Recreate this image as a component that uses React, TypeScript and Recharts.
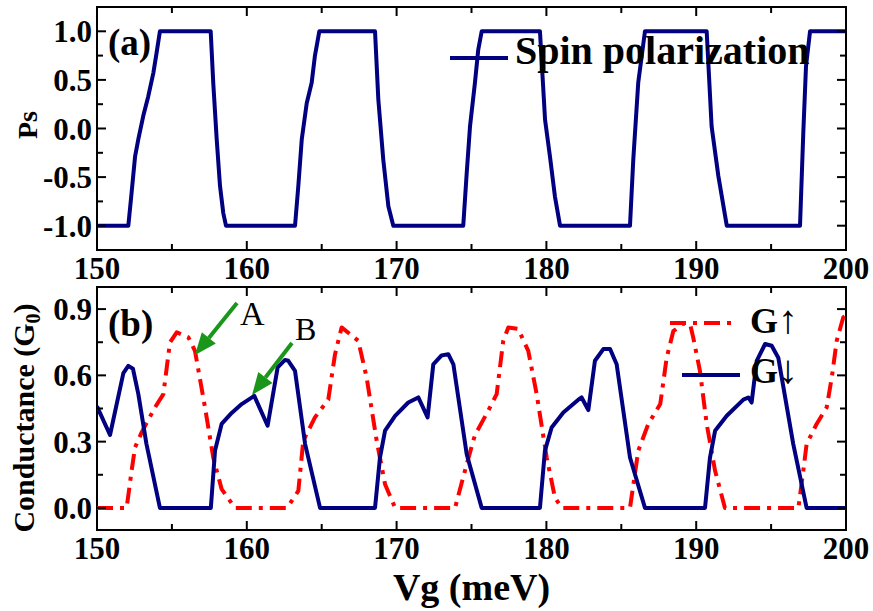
import React from "react";
import { LineChart, Line, XAxis, YAxis, ReferenceArea } from "recharts";

const FONT = "'Liberation Serif', 'Times New Roman', serif";
const NAVY = "#000080";
const RED = "#ff0000";
const GREEN = "#1a961a";

// (a) spin polarization vs gate voltage
const PS_VG = [
  150, 152.09, 152.31, 152.54, 152.76, 153.09, 153.42, 153.76, 153.98, 154.2,
  157.59, 157.76, 157.99, 158.21, 158.43, 158.61,
  163.22, 163.44, 163.67, 164.0, 164.33, 164.55, 164.84,
  168.56, 168.78, 169.11, 169.45, 169.78,
  174.45, 174.68, 174.9, 175.23, 175.45, 175.68,
  179.57, 179.91, 180.24, 180.57, 180.91,
  185.58, 185.8, 186.13, 186.58,
  190.7, 191.03, 191.48, 192.04,
  196.93, 197.15, 197.33, 197.6, 200,
];
const PS = [
  -1, -1, -0.66, -0.29, -0.11, 0.13, 0.33, 0.57, 0.78, 1,
  1, 0.47, -0.11, -0.59, -0.87, -1,
  -1, -0.59, -0.11, 0.26, 0.47, 0.75, 1,
  1, 0.3, -0.32, -0.8, -1,
  -1, -0.46, 0.02, 0.47, 0.81, 1,
  1, 0.09, -0.29, -0.7, -1,
  -1, -0.32, 0.47, 1,
  1, 0.02, -0.49, -1,
  -1, -0.04, 0.64, 1, 1,
];

// (b) spin-up conductance
const GUP_VG = [
  150, 151.98, 152.31, 152.54, 152.98, 153.87, 154.43, 154.87, 155.32, 156.1,
  156.54, 157.21, 157.76, 158.32, 159.21,
  162.69, 163.44, 163.77, 164.55, 165.44, 165.89, 166.33, 167.44, 168.0, 168.67,
  169.23, 169.9,
  173.9, 174.68, 175.23, 176.12, 176.68, 177.12, 177.46, 178.12, 178.79, 179.35,
  180.02, 180.57, 181.02,
  185.58, 186.13, 186.8, 187.6, 188.03, 188.47, 189.14, 189.6, 189.8, 190.25,
  190.7, 191.26, 191.92,
  196.82, 197.15, 197.37, 198.04, 198.71, 199.05, 199.38, 199.82, 200,
];
const GUP = [
  0, 0, 0.168, 0.274, 0.342, 0.455, 0.515, 0.749, 0.795, 0.772,
  0.711, 0.455, 0.228, 0.085, 0,
  0, 0.077, 0.304, 0.41, 0.49, 0.696, 0.817, 0.757, 0.59, 0.304,
  0.107, 0,
  0, 0.198, 0.33, 0.44, 0.515, 0.757, 0.817, 0.81, 0.711, 0.515,
  0.228, 0.047, 0,
  0, 0.258, 0.38, 0.47, 0.68, 0.8, 0.835, 0.83, 0.772, 0.62,
  0.38, 0.168, 0,
  0, 0.168, 0.289, 0.38, 0.455, 0.59, 0.757, 0.863, 0.87,
];

// (b) spin-down conductance
const GDN_VG = [
  150, 150.87, 151.76, 152.09, 152.4, 152.76, 153.3, 154.2,
  157.6, 157.88, 158.32, 158.99, 159.66, 160.5, 161.39, 162.06, 162.55, 162.77,
  163.22, 163.89, 164.89,
  168.56, 168.89, 169.23, 169.9, 170.78, 171.45, 172.07, 172.45, 173.0, 173.45,
  173.79, 174.68, 175.68,
  179.57, 179.9, 180.35, 181.13, 182.13, 182.35, 182.8, 183.24, 183.8, 184.25,
  184.69, 185.58, 186.58,
  190.59, 190.92, 191.26, 192.04, 193.15, 193.48, 193.7, 194.04, 194.6, 195.04,
  195.48, 196.48, 197.37, 200,
];
const GDN = [
  0.46, 0.33, 0.61, 0.643, 0.63, 0.515, 0.29, 0,
  0, 0.26, 0.38, 0.43, 0.47, 0.507, 0.372, 0.636, 0.67, 0.666,
  0.62, 0.29, 0,
  0, 0.228, 0.35, 0.417, 0.477, 0.5, 0.41, 0.65, 0.69, 0.696,
  0.65, 0.243, 0,
  0, 0.258, 0.364, 0.432, 0.49, 0.5, 0.443, 0.666, 0.719, 0.719,
  0.65, 0.228, 0,
  0, 0.228, 0.349, 0.417, 0.49, 0.5, 0.477, 0.666, 0.742, 0.734,
  0.68, 0.289, 0, 0,
];

const X_TICKS = [150, 155, 160, 165, 170, 175, 180, 185, 190, 195, 200];
const X_LABELS = [150, 160, 170, 180, 190, 200];
const PS_TICKS = [-1, -0.75, -0.5, -0.25, 0, 0.25, 0.5, 0.75, 1];
const PS_LABELS = [-1, -0.5, 0, 0.5, 1];
const G_TICKS = [0, 0.15, 0.3, 0.45, 0.6, 0.75, 0.9];
const G_LABELS = [0, 0.3, 0.6, 0.9];

const psData = PS_VG.map((vg, i) => ({ vg, ps: PS[i] }));
const upData = GUP_VG.map((vg, i) => ({ vg, g: GUP[i] }));
const dnData = GDN_VG.map((vg, i) => ({ vg, g: GDN[i] }));

const PLOT_W = 749;
const PLOT_H = 243;

const XTick = (props: any) => {
  const { x, y, payload } = props;
  const v = payload.value;
  const major = X_LABELS.includes(v);
  const len = major ? 9 : 6;
  return (
    <g>
      <line x1={x} y1={y} x2={x} y2={y - len} stroke="#000" strokeWidth={2} />
      <line x1={x} y1={y - PLOT_H} x2={x} y2={y - PLOT_H + len} stroke="#000" strokeWidth={2} />
      {major && (
        <text x={x} y={y + 29} textAnchor="middle" fontFamily={FONT} fontWeight="bold" fontSize={31} fill="#000">
          {v}
        </text>
      )}
    </g>
  );
};

const makeYTick = (labels: number[]) => (props: any) => {
  const { x, y, payload } = props;
  const v = payload.value;
  const major = labels.includes(v);
  const len = major ? 9 : 6;
  return (
    <g>
      <line x1={x} y1={y} x2={x + len} y2={y} stroke="#000" strokeWidth={2} />
      <line x1={x + PLOT_W} y1={y} x2={x + PLOT_W - len} y2={y} stroke="#000" strokeWidth={2} />
      {major && (
        <text x={x - 5} y={y + 11} textAnchor="end" fontFamily={FONT} fontWeight="bold" fontSize={31} fill="#000">
          {v.toFixed(1)}
        </text>
      )}
    </g>
  );
};

const PsTick = makeYTick(PS_LABELS);
const GTick = makeYTick(G_LABELS);

const Arrow = ({ x1, y1, x2, y2 }: { x1: number; y1: number; x2: number; y2: number }) => {
  const dx = x2 - x1;
  const dy = y2 - y1;
  const L = Math.hypot(dx, dy);
  const ux = dx / L;
  const uy = dy / L;
  const hl = 22;
  const hw = 9;
  const bx = x2 - ux * hl;
  const by = y2 - uy * hl;
  const pts = `${x2},${y2} ${bx - uy * hw},${by + ux * hw} ${bx + uy * hw},${by - ux * hw}`;
  return (
    <g>
      <line x1={x1} y1={y1} x2={bx} y2={by} stroke={GREEN} strokeWidth={4} />
      <polygon points={pts} fill={GREEN} />
    </g>
  );
};

export default function App() {
  return (
    <div style={{ position: "absolute", left: 0, top: 0, width: 873, height: 611, background: "#fff", overflow: "hidden" }}>
      {/* (a) */}
      <div style={{ position: "absolute", left: 0, top: 0 }}>
        <LineChart width={873} height={292} margin={{ top: 7, right: 27, left: 0, bottom: 0 }}>
          <XAxis
            dataKey="vg"
            type="number"
            domain={[150, 200]}
            ticks={X_TICKS}
            interval={0}
            allowDataOverflow
            height={42}
            tickSize={0}
            tickMargin={0}
            tickLine={false}
            axisLine={false}
            tick={<XTick />}
          />
          <YAxis
            type="number"
            domain={[-1.25, 1.25]}
            ticks={PS_TICKS}
            interval={0}
            allowDataOverflow
            width={97}
            tickSize={0}
            tickMargin={0}
            tickLine={false}
            axisLine={false}
            tick={<PsTick />}
          />
          <ReferenceArea x1={150} x2={200} y1={-1.25} y2={1.25} fill="none" stroke="#000" strokeWidth={2} />
          <Line
            data={psData}
            dataKey="ps"
            type="linear"
            stroke={NAVY}
            strokeWidth={4}
            strokeLinejoin="round"
            dot={false}
            isAnimationActive={false}
          />
        </LineChart>
      </div>

      {/* (b) */}
      <div style={{ position: "absolute", left: 0, top: 280 }}>
        <LineChart width={873} height={331} margin={{ top: 7, right: 27, left: 0, bottom: 0 }}>
          <XAxis
            dataKey="vg"
            type="number"
            domain={[150, 200]}
            ticks={X_TICKS}
            interval={0}
            allowDataOverflow
            height={81}
            tickSize={0}
            tickMargin={0}
            tickLine={false}
            axisLine={false}
            tick={<XTick />}
          />
          <YAxis
            type="number"
            domain={[-0.1, 1.0]}
            ticks={G_TICKS}
            interval={0}
            allowDataOverflow
            width={97}
            tickSize={0}
            tickMargin={0}
            tickLine={false}
            axisLine={false}
            tick={<GTick />}
          />
          <ReferenceArea x1={150} x2={200} y1={-0.1} y2={1.0} fill="none" stroke="#000" strokeWidth={2} />
          <Line
            data={upData}
            dataKey="g"
            type="linear"
            stroke={RED}
            strokeWidth={4}
            strokeDasharray="16 7 4 7"
            strokeLinejoin="round"
            dot={false}
            isAnimationActive={false}
          />
          <Line
            data={dnData}
            dataKey="g"
            type="linear"
            stroke={NAVY}
            strokeWidth={4}
            strokeLinejoin="round"
            dot={false}
            isAnimationActive={false}
          />
        </LineChart>
      </div>

      {/* labels, legends, annotations */}
      <svg width={873} height={611} style={{ position: "absolute", left: 0, top: 0, pointerEvents: "none" }}>
        <g fontFamily={FONT} fill="#000">
          <text x={108} y={55} fontSize={37} fontWeight="bold">(a)</text>
          <text x={108} y={336} fontSize={37} fontWeight="bold">(b)</text>

          <text transform="translate(37,125) rotate(-90)" textAnchor="middle" fontSize={28} fontWeight="bold">Ps</text>
          <text transform="translate(34,418) rotate(-90)" textAnchor="middle" fontSize={30} fontWeight="bold">
            Conductance (G<tspan fontSize={20} dy={6}>0</tspan><tspan dy={-6}>)</tspan>
          </text>
          <text x={471.5} y={600} textAnchor="middle" fontSize={38} fontWeight="bold">Vg (meV)</text>

          {/* legend (a) */}
          <line x1={450} y1={58} x2={508} y2={58} stroke={NAVY} strokeWidth={4} />
          <text x={515} y={64} fontSize={40} fontWeight="bold">Spin polarization</text>

          {/* legend (b) */}
          <line x1={670} y1={323} x2={735} y2={323} stroke={RED} strokeWidth={4} strokeDasharray="16 7 4 7" />
          <text x={750} y={333} fontSize={36} fontWeight="bold">
            G<tspan fontWeight="normal" fontSize={40}>↑</tspan>
          </text>
          <line x1={682} y1={375} x2={740} y2={375} stroke={NAVY} strokeWidth={4} />
          <text x={750} y={383} fontSize={36} fontWeight="bold">
            G<tspan fontWeight="normal" fontSize={40}>↓</tspan>
          </text>

          {/* annotations */}
          <text x={240} y={325} fontSize={34}>A</text>
          <text x={295} y={340} fontSize={32}>B</text>
        </g>
        <Arrow x1={237} y1={303} x2={195} y2={355} />
        <Arrow x1={292} y1={343} x2={252} y2={395} />
      </svg>
    </div>
  );
}
